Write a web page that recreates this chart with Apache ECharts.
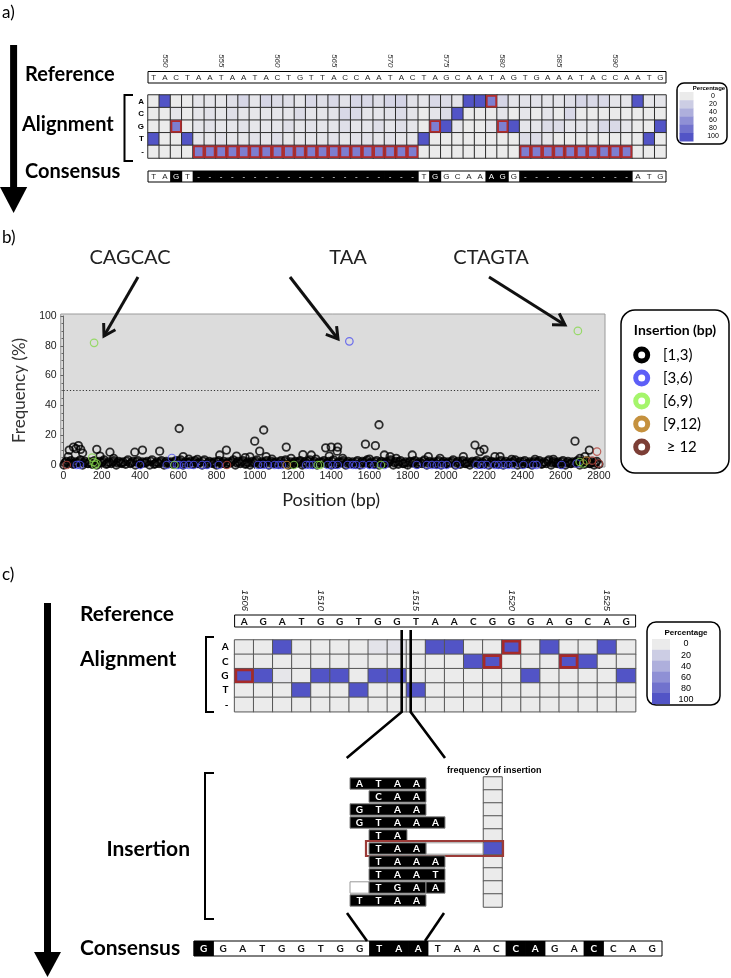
<!DOCTYPE html>
<html><head><meta charset="utf-8">
<script src="https://cdn.jsdelivr.net/npm/echarts@6/dist/echarts.min.js"></script>
<style>html,body{margin:0;padding:0;background:#fff}#c{width:731px;height:978px}</style>
</head><body><div id="c"></div>
<script>
// ---------------- DATA ----------------
// Panel a
const posA = [549,550,551,552,553,554,555,556,557,558,559,560,561,562,563,564,565,566,567,568,569,570,571,572,573,574,575,576,577,578,579,580,581,582,583,584,585,586,587,588,589,590,591,592,593,594];
const refA = 'TACTAATAATACTGTTACCAATACTAGCAATAGTGAAATACCAATG'.split('');
const consA = 'TAGT--------------------TGGCAAAGG----------ATG'.split('');
const baseRows = ['A','C','G','T','-'];
const heatA_A = [0,100,0,0,4,4,3,8,14,4,14,10,8,4,12,8,12,6,14,12,8,14,16,6,4,12,10,5,100,100,72,14,4,6,6,4,4,8,14,12,12,4,4,100,4,4];
const heatA_C = [0,0,4,0,3,6,3,8,4,3,4,4,4,10,4,4,6,12,12,4,4,6,10,4,0,4,10,100,0,0,0,4,0,4,0,4,0,12,0,0,0,0,0,0,0,0];
const heatA_G = [0,0,72,0,4,6,3,4,6,3,4,4,8,4,6,4,4,8,4,4,8,4,8,4,0,72,100,4,0,0,4,72,100,4,4,10,10,4,4,4,12,12,4,0,0,100];
const heatA_T = [100,0,0,100,4,3,6,3,3,6,4,8,3,4,4,4,6,3,6,6,3,6,3,3,100,0,0,0,0,0,0,0,0,10,10,4,0,0,0,0,0,0,0,0,100,0];
const heatA_D = [0,0,0,0,72,72,72,72,72,72,72,72,72,72,72,72,72,72,72,72,72,72,72,72,0,0,0,0,0,0,0,0,0,72,72,72,72,72,72,72,72,72,72,0,0,0];

// Panel b (position bp, frequency %)
const insNames = ['[1,3)','[3,6)','[6,9)','[9,12)','\u2265 12'];
const bandLow = [[2,0],[27,1],[51,0.5],[76,1.5],[100,0],[126,1],[150,0.5],[175,0],[201,1.5],[224,0.5],[250,1],[276,0],[300,1.5],[325,0.5],[349,1],[376,0],[400,1],[424,1.5],[451,0],[475,0.5],[500,1],[526,0],[550,1.5],[574,0.5],[601,1],[625,0],[650,1.5],[676,0.5],[700,1],[725,0],[749,0.5],[776,1.5],[800,0],[826,1],[850,0.5],[875,1.5],[899,0],[925,1],[951,0.5],[975,0],[1000,1.5],[1025,0.5],[1050,1],[1074,0],[1101,1.5],[1125,0.5],[1150,1],[1176,0],[1200,0.5],[1225,1.5],[1249,0],[1275,1],[1300,0.5],[1326,0],[1350,1.5],[1375,1],[1400,0],[1424,0.5],[1450,1.5],[1476,0],[1500,1],[1525,0.5],[1550,0],[1575,1.5],[1600,1],[1626,0.5],[1650,0],[1675,1],[1700,1.5],[1725,0],[1751,0.5],[1775,1],[1800,0],[1826,1.5],[1850,0.5],[1875,1],[1900,0],[1925,1.5],[1950,0.5],[1975,0],[2000,1],[2025,1.5],[2050,0],[2075,0.5],[2100,1],[2125,0],[2150,1.5],[2175,0.5],[2200,1],[2225,0],[2250,1.5],[2275,0.5],[2300,0],[2325,1],[2350,1.5],[2375,0],[2400,0.5],[2425,1],[2450,0],[2475,1.5],[2500,0.5],[2525,1],[2550,0],[2575,1.5],[2600,0.5],[2625,0],[2650,1],[2675,1.5],[2700,0],[2725,0.5],[2750,1],[2775,0],[2800,0.5]];
const bandMid = [[8,1.5],[33,2],[57,1],[82,2.5],[107,1.5],[132,1],[157,2],[181,1.5],[206,2.5],[231,1],[257,2],[282,1.5],[306,1],[331,2.5],[356,1.5],[382,2],[406,1],[431,1.5],[457,2.5],[481,1],[506,2],[532,1.5],[556,1],[581,2],[606,2.5],[631,1],[657,1.5],[682,2],[706,1],[731,2.5],[756,1.5],[782,1],[806,2],[832,1.5],[856,1],[882,2.5],[906,1.5],[932,2],[956,1],[982,1.5],[1006,2.5],[1031,1],[1056,2],[1082,1.5],[1106,1],[1132,2],[1156,2.5],[1182,1],[1206,1.5],[1232,2],[1256,1],[1282,2.5],[1306,1.5],[1332,1],[1356,2],[1382,1.5],[1406,2.5],[1432,1],[1456,2],[1482,1.5],[1506,1],[1532,2],[1556,1.5],[1582,2.5],[1606,1],[1632,2],[1656,1.5],[1682,1],[1706,2.5],[1732,1.5],[1756,2],[1782,1],[1806,1.5],[1832,2],[1856,1],[1882,2.5],[1906,1.5],[1932,1],[1956,2],[1982,1.5],[2006,1],[2032,2.5],[2056,1.5],[2082,2],[2106,1],[2132,1.5],[2156,2],[2182,1],[2206,2.5],[2232,1.5],[2256,1],[2282,2],[2306,1.5],[2332,1],[2356,2.5],[2382,1.5],[2406,2],[2432,1],[2456,1.5],[2482,2],[2506,1],[2532,2.5],[2556,1.5],[2582,1],[2606,2],[2632,1.5],[2656,1],[2682,2],[2706,1.5],[2732,2],[2756,1],[2782,1.5]];
const bandHigh = [[14,2.5],[39,3],[63,2],[88,3.5],[113,2.5],[138,2],[163,3],[188,2.5],[212,3.5],[237,2],[263,3],[288,2.5],[312,2],[337,3.5],[362,2.5],[388,3],[412,2],[437,2.5],[463,3.5],[488,2],[512,3],[538,2.5],[562,2],[588,3],[612,3.5],[637,2],[663,2.5],[688,3],[712,2],[737,3.5],[762,2.5],[788,2],[812,3],[838,2.5],[862,2],[888,3.5],[912,2.5],[938,3],[962,2],[988,2.5],[1012,3.5],[1037,2],[1062,3],[1088,2.5],[1112,2],[1138,3],[1162,3.5],[1188,2],[1212,2.5],[1238,3],[1262,2],[1288,3.5],[1312,2.5],[1338,2],[1362,3],[1388,2.5],[1412,3.5],[1438,2],[1462,3],[1488,2.5],[1512,2],[1538,3],[1562,2.5],[1588,3.5],[1612,2],[1638,3],[1662,2.5],[1688,2],[1712,3.5],[1738,2.5],[1762,3],[1788,2],[1812,2.5],[1838,3],[1862,2],[1888,3.5],[1912,2.5],[1938,2],[1962,3],[1988,2.5],[2012,2],[2038,3.5],[2062,2.5],[2088,3],[2112,2],[2138,2.5],[2162,3],[2188,2],[2212,3.5],[2238,2.5],[2262,2],[2288,3],[2312,2.5],[2338,2],[2362,3.5],[2388,2.5],[2412,3],[2438,2],[2462,2.5],[2488,3],[2512,2],[2538,3.5],[2562,2.5],[2588,2],[2612,3],[2638,2.5],[2662,2],[2688,3],[2712,2.5],[2738,3],[2762,2],[2788,2.5]];
const blackUpper = [[25,5.6],[30,10],[52,12],[65,11],[78,13],[90,10.5],[100,8],[174,10.5],[191,6],[243,8.6],[262,4.5],[373,8.6],[413,10],[503,9.3],[605,24.5],[626,5.6],[655,4],[700,3.8],[817,6.7],[852,10],[905,6],[950,5],[975,5.5],[1000,16],[1026,9.3],[1047,23.5],[1060,5.6],[1090,4],[1165,12],[1190,4.5],[1252,7],[1296,6.7],[1320,4],[1371,11.5],[1390,6],[1400,12],[1431,9.3],[1434,12],[1460,4.5],[1579,14],[1600,4],[1631,13],[1650,27],[1678,6.7],[1708,5.6],[1740,4.5],[1824,6.7],[1908,5.6],[1969,4.5],[2091,5.6],[2152,13.4],[2178,9],[2199,10.5],[2256,5.6],[2283,5.6],[2344,3.8],[2466,3.8],[2562,3.8],[2675,16],[2701,4.5],[2727,5.6],[2750,10]];
const ins3to6 = [[69,0],[86,0],[400,0],[540,0],[567,4.7],[593,0],[603,0],[629,0],[655,0],[681,0],[725,0],[751,0],[812,0],[1017,0],[1043,0],[1069,0],[1104,0],[1125,0],[1142,0],[1269,0],[1287,0],[1304,0],[1382,0],[1408,0],[1434,0],[1486,0],[1513,0],[1530,0],[1565,0],[1600,0],[1626,0],[1678,0],[1847,0],[1900,0],[1926,0],[1952,0],[1978,0],[2004,0],[2056,0],[2161,0],[2187,0],[2213,0],[2256,0],[2274,0],[2300,0],[2326,0],[2352,0],[2405,0],[2457,0],[2474,0],[2605,0],[2684,1],[1495,83]];
const ins6to9 = [[160,82],[150,5],[158,2],[165,0],[172,1],[580,0],[1205,0],[1330,0],[1342,0],[1660,0],[2690,90],[2700,2],[2718,1]];
const ins9to12 = [[1168,0],[2735,3]];
const ins12up = [[17,0],[855,0],[2765,3],[2790,9],[2800,1]];
const xTicksB = [0,2800,200];

// Panel c
const posC = [1506,1507,1508,1509,1510,1511,1512,1513,1514,1515,1516,1517,1518,1519,1520,1521,1522,1523,1524,1525,1526];
const refC = 'AGATGGTGGTAACGGGAGCAG'.split('');
const heatC_A = [0,0,100,0,0,0,0,5,6,0,100,100,0,0,100,0,100,0,0,100,0];
const heatC_C = [0,0,0,0,0,0,0,0,0,0,0,0,100,100,0,0,0,100,100,0,0];
const heatC_G = [100,100,3,0,100,100,0,100,100,0,0,0,0,0,0,100,0,0,0,0,100];
const heatC_T = [0,0,0,100,0,0,100,0,0,100,0,0,0,0,0,0,0,0,0,0,0];
const heatC_D = [0,0,0,0,0,0,0,0,0,0,0,0,0,0,0,0,0,0,0,0,0];
const insRows = ['ATAA','.CAA','GTAA','GTAAA','.TA','.TAA','.TAAA','.TAAT','_TGA|A','TTAA'];
const insFreq = [0,0,0,0,0,100,0,0,0,0];
const consC = 'GGATGGTGGTAATAACCAGACCAG'.split('');
const consCHi = [0,9,10,11,16,17,20];
const legendSteps = [0,20,40,60,80,100];

// ---------------- HELPERS ----------------
const C0 = [235,235,235], C1 = [82,84,198];
function ramp(v){const t=v/100;return 'rgb('+C0.map((c,i)=>Math.round(c+(C1[i]-c)*t)).join(',')+')';}
function heatData(rowsArr){const d=[];rowsArr.forEach((row,r)=>row.forEach((v,c)=>d.push([c,r,v])));return d;}
function redCells(rowsArr, ref){const d=[];for(let c=0;c<ref.length;c++){let best=0;for(let r=1;r<rowsArr.length;r++){if(rowsArr[r][c]>rowsArr[best][c])best=r;}if(baseRows[best]!==ref[c])d.push([c,best]);}return d;}
const heatARows=[heatA_A,heatA_C,heatA_G,heatA_T,heatA_D];
const heatCRows=[heatC_A,heatC_C,heatC_G,heatC_T,heatC_D];
const consAHi = consA.map((b,i)=>b!==refA[i]);
const consCHiFlags = consC.map((b,i)=>consCHi.indexOf(i)>=0);

function seqRender(seq, hi, font, color){
  return function(params, api){
    const i = params.dataIndex;
    const p = api.coord([i,0]); const s = api.size([1,1]);
    const ch = [];
    if (hi[i]) ch.push({type:'rect',shape:{x:p[0]-s[0]/2-0.4,y:p[1]-s[1]/2,width:s[0]+0.8,height:s[1]},style:{fill:'#000'}});
    ch.push({type:'text',style:{text:seq[i],x:p[0],y:p[1]+0.5,align:'center',verticalAlign:'middle',fill:hi[i]?'#fff':color,fontSize:font[0],fontWeight:font[1],fontFamily:font[2]}});
    return {type:'group',children:ch};
  };
}
function redRender(lw,color){
  return function(params, api){
    const p = api.coord([api.value(0),api.value(1)]); const s = api.size([1,1]);
    return {type:'rect',shape:{x:p[0]-s[0]/2+lw/2,y:p[1]-s[1]/2+lw/2,width:s[0]-lw,height:s[1]-lw},style:{fill:null,stroke:color,lineWidth:lw}};
  };
}
function insRender(params, api){
  const r = params.dataIndex; const str = insRows[r];
  const s = api.size([1,1]);
  const rects=[], texts=[]; let col=0, seg=null; const segs=[];
  const h = s[1]-1.6;
  for (const ch of str){
    if (ch==='|'){seg=null;continue;}
    const p = api.coord([col,r]);
    if (ch==='.'){seg=null;}
    else if (ch==='_'){seg=null;rects.push({type:'rect',shape:{x:p[0]-s[0]/2,y:p[1]-h/2,width:s[0],height:h},style:{fill:'#fff',stroke:'#999',lineWidth:1}});}
    else {
      if(!seg){seg={x0:p[0]-s[0]/2,x1:0};segs.push(seg);}
      seg.x1=p[0]+s[0]/2;
      texts.push({type:'text',style:{text:ch,x:p[0],y:p[1]+0.5,align:'center',verticalAlign:'middle',fill:'#fff',fontSize:10,fontWeight:'bold',fontFamily:'Lato'}});
    }
    col++;
  }
  segs.forEach(sg=>rects.push({type:'rect',shape:{x:sg.x0,y:api.coord([0,r])[1]-h/2,width:sg.x1-sg.x0,height:h},style:{fill:'#000',stroke:'#888',lineWidth:1}}));
  const extra=[];
  if (insFreq[r]>0){
    const p4 = api.coord([4,r]); const left4 = p4[0]-s[0]/2; const p1 = api.coord([1,r]);
    rects.unshift({type:'rect',shape:{x:left4,y:p4[1]-h/2,width:s[0]*3,height:h},style:{fill:'#fff',stroke:'#999',lineWidth:1}});
    extra.push({type:'rect',shape:{x:p1[0]-s[0]/2-3,y:p4[1]-s[1]/2-1,width:(left4+s[0]*4+1)-(p1[0]-s[0]/2-3),height:s[1]+2},style:{fill:null,stroke:'#9b3b38',lineWidth:2.2}});
  }
  return {type:'group',children:rects.concat(texts,extra)};
}
function arrow(x1,y1,x2,y2,lw,hl){
  const a=Math.atan2(y2-y1,x2-x1);
  const b1=a+Math.PI-0.55,b2=a+Math.PI+0.55;
  return [{type:'polyline',shape:{points:[[x1,y1],[x2,y2]]},style:{stroke:'#111',lineWidth:lw,fill:null}},
          {type:'polyline',shape:{points:[[x2+hl*Math.cos(b1),y2+hl*Math.sin(b1)],[x2,y2],[x2+hl*Math.cos(b2),y2+hl*Math.sin(b2)]]},style:{stroke:'#111',lineWidth:lw,fill:null,lineJoin:'miter'}}];
}
function txt(t,x,y,size,weight,extra){return Object.assign({type:'text',style:Object.assign({text:t,x:x,y:y,fontSize:size,fontWeight:weight||'normal',fontFamily:'Lato',fill:'#000',verticalAlign:'middle',align:'left'},extra||{})});}
function legendBox(x,y,w,h,r,titleSize,lab){
  const g=[{type:'rect',shape:{x:x,y:y,width:w,height:h,r:r},style:{fill:'#fff',stroke:'#000',lineWidth:1.5}}];
  g.push(txt('Percentage',lab.tx,lab.ty,titleSize,'bold',{align:'center',fontFamily:'Liberation Sans'}));
  legendSteps.forEach((v,i)=>{
    g.push({type:'rect',shape:{x:lab.sx,y:lab.sy+i*lab.sh,width:lab.sw,height:lab.sh+0.3},style:{fill:ramp(v)}});
    g.push(txt(String(v),lab.lx,lab.ly+i*lab.ls,lab.fs,'normal',{align:'center',fontFamily:'Liberation Sans'}));
  });
  return g;
}

// ---------------- OPTION ----------------
const scatterColors=['#000000','#4e50f0','#86d84c','#c08a3a','#b3433b'];
const legendColors=['#000000','#5d5ff7','#a5f56b','#c5913e','#7c3e36'];
const scatterSets=[bandLow.concat(bandMid,bandHigh,blackUpper),ins3to6,ins6to9,ins9to12,ins12up];

const grids=[
 {left:148,top:71.5,width:518,height:11.5,show:true,borderColor:'#000',borderWidth:1,backgroundColor:'#fff'},
 {left:148,top:95,width:518,height:63},
 {left:148,top:171,width:518,height:11,show:true,borderColor:'#000',borderWidth:1,backgroundColor:'#fff'},
 {left:60.7,top:314,width:544.3,height:153,show:true,backgroundColor:'#dcdcdc',borderColor:'#9a9a9a',borderWidth:1},
 {left:63.5,top:316,width:535.4,height:149},
 {left:234.6,top:615,width:401,height:12,show:true,borderColor:'#000',borderWidth:1,backgroundColor:'#fff'},
 {left:234.6,top:640,width:401,height:71.7},
 {left:350,top:777,width:95,height:130},
 {left:483.5,top:777,width:18.5,height:130},
 {left:194,top:941,width:468,height:15,show:true,borderColor:'#000',borderWidth:1,backgroundColor:'#fff'}
].map(g=>Object.assign({outerBoundsMode:'none',containLabel:false},g));

const hid=(t,gi,data,inv)=>({type:t,gridIndex:gi,show:false,data:data,inverse:!!inv});
const xAxes=[
 {type:'category',gridIndex:0,data:posA,position:'top',axisLine:{show:false},axisTick:{show:false},
  axisLabel:{interval:(i,v)=>(+v)%5===0,rotate:90,fontSize:8,fontStyle:'italic',color:'#333',margin:4,fontFamily:'Liberation Sans'}},
 hid('category',1,posA), hid('category',2,posA),
 {type:'value',gridIndex:3,show:false,min:0,max:1},
 {type:'value',gridIndex:4,min:xTicksB[0],max:xTicksB[1],interval:xTicksB[2],offset:2,
  axisLine:{show:true,lineStyle:{color:'#666'}},axisTick:{show:true,length:4,lineStyle:{color:'#666'}},
  minorTick:{show:true,splitNumber:2,length:2,lineStyle:{color:'#666'}},splitLine:{show:false},
  axisLabel:{fontSize:10.5,color:'#222',margin:4,fontFamily:'Liberation Sans',formatter:v=>String(v)},
  name:'Position (bp)',nameLocation:'middle',nameGap:24,nameTextStyle:{fontSize:18,fontFamily:'Lato',color:'#222'}},
 {type:'category',gridIndex:5,data:posC,position:'top',axisLine:{show:false},axisTick:{show:false},
  axisLabel:{interval:(i,v)=>i===0||(+v)%5===0,rotate:90,fontSize:9.5,fontStyle:'italic',color:'#222',margin:4,fontFamily:'Liberation Sans'}},
 hid('category',6,posC), hid('category',7,['0','1','2','3','4']), hid('category',8,['f']),
 hid('category',9,consC.map((b,i)=>String(i)))
];
const rowIdx=['0','1','2','3','4','5','6','7','8','9'];
const yAxes=[
 hid('category',0,['r']),
 {type:'category',gridIndex:1,data:baseRows,inverse:true,axisLine:{show:false},axisTick:{show:false},
  axisLabel:{fontSize:8,fontWeight:'bold',color:'#000',margin:4,fontFamily:'Liberation Sans'}},
 hid('category',2,['r']),
 {type:'value',gridIndex:3,show:false,min:0,max:1},
 {type:'value',gridIndex:4,min:0,max:100,interval:20,offset:2.8,
  axisLine:{show:true,lineStyle:{color:'#666'}},axisTick:{show:true,length:3,lineStyle:{color:'#666'}},
  minorTick:{show:true,splitNumber:4,length:2,lineStyle:{color:'#666'}},splitLine:{show:false},
  axisLabel:{fontSize:10.5,color:'#222',margin:4,fontFamily:'Liberation Sans'},
  name:'Frequency (%)',nameLocation:'middle',nameGap:27,nameRotate:90,nameTextStyle:{fontSize:17,fontFamily:'Lato',color:'#333'}},
 hid('category',5,['r']),
 {type:'category',gridIndex:6,data:baseRows,inverse:true,axisLine:{show:false},axisTick:{show:false},
  axisLabel:{fontSize:10,fontWeight:'bold',color:'#000',margin:6,fontFamily:'Lato'}},
 hid('category',7,rowIdx,true), hid('category',8,rowIdx,true), hid('category',9,['r'])
];

const series=[];
series.push({type:'custom',xAxisIndex:0,yAxisIndex:0,data:refA.map((b,i)=>[i,0]),renderItem:seqRender(refA,refA.map(()=>false),[8,'normal','Liberation Sans'],'#222'),z:3});
series.push({type:'heatmap',xAxisIndex:1,yAxisIndex:1,data:heatData(heatARows),itemStyle:{borderColor:'#2e2e2e',borderWidth:1},emphasis:{disabled:true}});
series.push({type:'custom',xAxisIndex:1,yAxisIndex:1,data:redCells(heatARows,refA),renderItem:redRender(1.8,'#b02c2c'),z:4});
series.push({type:'custom',xAxisIndex:2,yAxisIndex:2,data:consA.map((b,i)=>[i,0]),renderItem:seqRender(consA,consAHi,[8,'normal','Liberation Sans'],'#222'),z:3});
scatterSets.forEach((d,k)=>series.push({type:'scatter',name:insNames[k],xAxisIndex:4,yAxisIndex:4,data:d,clip:false,symbol:'circle',symbolSize:7.5,
  itemStyle:{color:'rgba(0,0,0,0)',borderColor:scatterColors[k],borderWidth:k===0?1.8:1.2},emphasis:{disabled:true},z:3+k,
  markLine:k===0?{silent:true,symbol:['none','none'],label:{show:false},lineStyle:{type:[1.2,2],color:'#333',width:1},data:[{yAxis:50}]}:undefined}));
series.push({type:'custom',xAxisIndex:5,yAxisIndex:5,data:refC.map((b,i)=>[i,0]),renderItem:seqRender(refC,refC.map(()=>false),[10,'bold','Lato'],'#111'),z:3});
series.push({type:'heatmap',xAxisIndex:6,yAxisIndex:6,data:heatData(heatCRows),itemStyle:{borderColor:'#555',borderWidth:1},emphasis:{disabled:true}});
series.push({type:'custom',xAxisIndex:6,yAxisIndex:6,data:redCells(heatCRows,refC),renderItem:redRender(2.6,'#a52a2a'),z:4});
series.push({type:'custom',xAxisIndex:7,yAxisIndex:7,data:insRows.map((s,i)=>[0,i]),renderItem:insRender,z:5});
series.push({type:'heatmap',xAxisIndex:8,yAxisIndex:8,data:insFreq.map((v,i)=>[0,i,v]),itemStyle:{borderColor:'#555',borderWidth:1},emphasis:{disabled:true},z:2});
series.push({type:'custom',xAxisIndex:9,yAxisIndex:9,data:consC.map((b,i)=>[i,0]),renderItem:seqRender(consC,consCHiFlags,[10,'bold','Lato'],'#111'),z:3});

const graphic=[];
// panel labels
graphic.push(txt('a)',2,13,17),txt('b)',2,238,17),txt('c)',2,575,17));
// panel a
graphic.push({type:'polyline',shape:{points:[[13.6,45],[13.6,190]]},style:{stroke:'#000',lineWidth:7}});
graphic.push({type:'polygon',shape:{points:[[0,187],[27.2,187],[13.6,213]]},style:{fill:'#000'}});
graphic.push(txt('Reference',25,75,20,'bold'),txt('Alignment',22,125,20,'bold'),txt('Consensus',25,172,20,'bold'));
graphic.push({type:'polyline',shape:{points:[[133,95],[124.5,95],[124.5,161],[133,161]]},style:{stroke:'#000',lineWidth:2,fill:null}});
graphic.push(...legendBox(677,83,50,61,7,6,{tx:709,ty:88.5,sx:679.5,sy:92,sw:14,sh:8.2,lx:713,ly:96.5,ls:8,fs:7}));
// panel b
graphic.push(txt('CAGCAC',130,258,20,'normal',{align:'center',fill:'#222'}),txt('TAA',348,258,20,'normal',{align:'center',fill:'#222'}),txt('CTAGTA',491,258,20,'normal',{align:'center',fill:'#222'}));
graphic.push(...arrow(138,277,104,336,3,13),...arrow(290,277,338,339,3,13),...arrow(489,277,565,325,3,13));
graphic.push({type:'rect',shape:{x:621,y:310,width:108,height:163,r:14},style:{fill:'#fff',stroke:'#000',lineWidth:1.5}});
graphic.push(txt('Insertion (bp)',675,330,14,'bold',{align:'center'}));
insNames.forEach((n,i)=>{
  const y=355+i*23;
  graphic.push({type:'circle',shape:{cx:641.7,cy:y,r:6},style:{fill:'#fff',stroke:legendColors[i],lineWidth:5}});
  graphic.push(txt(i===4?' '+n:n,663,y,15,'normal'));
});
// panel c
graphic.push({type:'polyline',shape:{points:[[47.5,603],[47.5,955]]},style:{stroke:'#000',lineWidth:7}});
graphic.push({type:'polygon',shape:{points:[[34,952],[61,952],[47.5,977]]},style:{fill:'#000'}});
graphic.push(txt('Reference',80,614,21,'bold'),txt('Alignment',80,659,21,'bold'),txt('Insertion',190,849,21,'bold',{align:'right'}),txt('Consensus',80,948,21,'bold'));
graphic.push({type:'polyline',shape:{points:[[214,637],[206,637],[206,712],[214,712]]},style:{stroke:'#000',lineWidth:2,fill:null}});
graphic.push({type:'polyline',shape:{points:[[214,773],[205,773],[205,919],[214,919]]},style:{stroke:'#000',lineWidth:2,fill:null}});
graphic.push({type:'polyline',z:100,shape:{points:[[401.7,630],[401.7,712],[346.7,758]]},style:{stroke:'#000',lineWidth:2.6,fill:null}});
graphic.push({type:'polyline',z:100,shape:{points:[[410.7,630],[410.7,712],[445,758]]},style:{stroke:'#000',lineWidth:2.6,fill:null}});
graphic.push({type:'polyline',shape:{points:[[347,913],[367,941]]},style:{stroke:'#000',lineWidth:2.6}});
graphic.push({type:'polyline',shape:{points:[[444,913],[425,941]]},style:{stroke:'#000',lineWidth:2.6}});
graphic.push(txt('frequency of insertion',447,771,9,'bold',{fontFamily:'Liberation Sans'}));
graphic.push(...legendBox(647,622,73,83,9,8,{tx:686,ty:633,sx:652,sy:639,sw:18,sh:10.8,lx:686,ly:644,ls:11.1,fs:9}));

const chart=echarts.init(document.getElementById('c'));
chart.setOption({
  animation:false,
  backgroundColor:'#fff',
  textStyle:{fontFamily:'Liberation Sans'},
  grid:grids, xAxis:xAxes, yAxis:yAxes,
  visualMap:{type:'continuous',show:false,min:0,max:100,seriesIndex:[1,10,13],inRange:{color:[ramp(0),ramp(100)]}},
  series:series,
  graphic:{elements:graphic}
});
</script></body></html>
